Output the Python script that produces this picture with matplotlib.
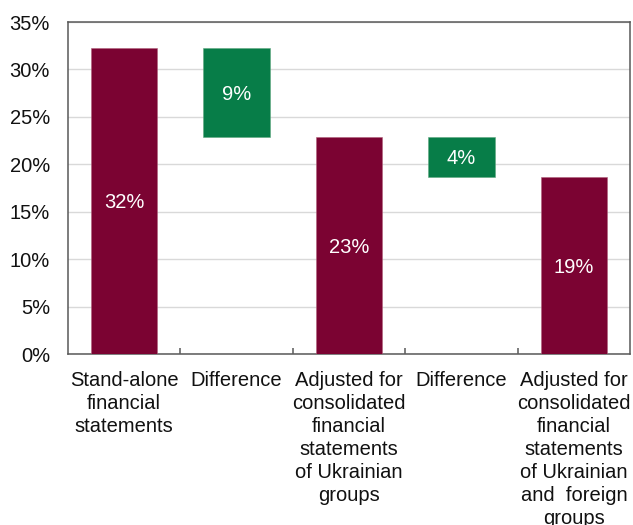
import numpy as np
import matplotlib
matplotlib.use("Agg")
import matplotlib.pyplot as plt

plt.rcParams['font.family'] = ['Liberation Sans', 'DejaVu Sans']

# waterfall: totals at steps 0, 2, 4; differences between them
categories = ["Stand-alone\nfinancial\nstatements",
              "Difference",
              "Adjusted for\nconsolidated\nfinancial\nstatements\nof Ukrainian\ngroups",
              "Difference",
              "Adjusted for\nconsolidated\nfinancial\nstatements\nof Ukrainian\nand  foreign\ngroups"]
totals = [32.3, 22.9, 18.7]
total_pos = [0, 2, 4]
diff_pos = [1, 3]

maroon = "#7B0332"
green = "#077D48"

fig = plt.figure(figsize=(6.33, 5.25), dpi=100)
ax = fig.add_axes([0.1074, 0.3257, 0.888, 0.6323])

w = 0.59
ax.bar(total_pos, totals, width=w, color=maroon, edgecolor="#B0607A", linewidth=0.4, zorder=3)
for x, v in zip(total_pos, totals):
    ax.text(x, v / 2, f"{v:.0f}%", ha="center", va="center_baseline", color="white",
            fontsize=14.5, zorder=4)

for i, x in enumerate(diff_pos):
    top = totals[i]
    bottom = totals[i + 1]
    ax.bar(x, top - bottom, bottom=bottom, width=w, color=green, edgecolor="#60A880", linewidth=0.4, zorder=3)
    ax.text(x, (top + bottom) / 2, f"{top - bottom:.0f}%", ha="center", va="center_baseline",
            color="white", fontsize=14.5, zorder=4)

ax.set_xlim(-0.5, 4.5)
ax.set_ylim(0, 35)
ax.set_yticks(np.arange(0, 36, 5))
ax.set_yticklabels([f"{t}%" for t in range(0, 36, 5)])
ax.set_xticks(range(5))
ax.set_xticklabels(categories, linespacing=1.27)
ax.set_xticks(np.arange(0.5, 4.5, 1), minor=True)

ax.yaxis.grid(True, color="#D9D9D9", linewidth=1.0, zorder=0)
ax.set_axisbelow(True)

ax.tick_params(axis="y", length=0, pad=13, labelsize=14.5, colors="#111111")
ax.tick_params(axis="x", which="major", length=0, pad=12, labelsize=14.5, colors="#111111")
ax.tick_params(axis="x", which="minor", direction="in", length=4.5, width=1.1, color="#595959")

for s in ax.spines.values():
    s.set_color("#595959")
    s.set_linewidth(1.1)

fig.savefig("out.png", dpi=100)
